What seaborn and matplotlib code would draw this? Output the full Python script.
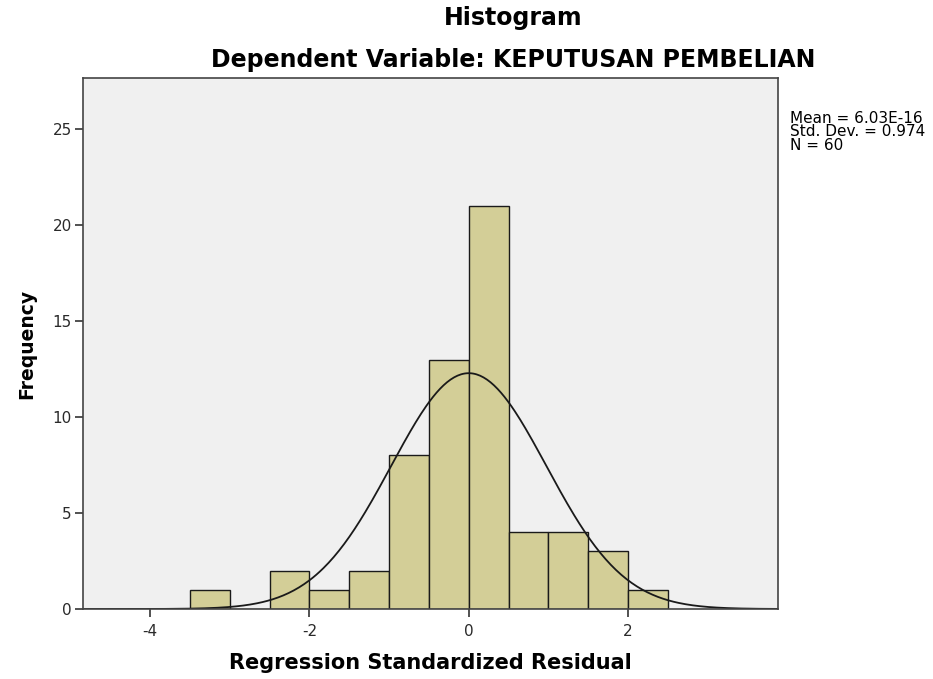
import numpy as np
import pandas as pd
import matplotlib
matplotlib.use("Agg")
import matplotlib.pyplot as plt
import seaborn as sns

# Data
bin_edges = [-3.5, -3.0, -2.5, -2.0, -1.5, -1.0, -0.5, 0.0, 0.5, 1.0, 1.5, 2.0, 2.5]
counts = [1, 0, 2, 1, 2, 8, 13, 21, 4, 4, 3, 1]
mean_val = 6.03e-16
std_val = 0.974
n_val = 60
x_ticks = [-4, -2, 0, 2]
y_ticks = [0, 5, 10, 15, 20, 25]

sns.set_theme(style="white")
plt.rcParams['font.family'] = ['DejaVu Sans']

fig = plt.figure(figsize=(9.33, 6.79), dpi=100)
ax = fig.add_axes([83/933, 1-609/679, (778-83)/933, (609-78)/679])
ax.set_facecolor("#F0F0F0")

centers = [(a + b) / 2 for a, b in zip(bin_edges[:-1], bin_edges[1:])]
df = pd.DataFrame({"x": centers, "w": counts})
sns.histplot(data=df, x="x", weights="w", bins=bin_edges, ax=ax,
             color="#D3CE97", alpha=1, edgecolor="#1a1a1a", linewidth=1.0)

bw = bin_edges[1] - bin_edges[0]
xs = np.linspace(-4.84, 3.88, 400)
ys = n_val * bw / (std_val * np.sqrt(2 * np.pi)) * np.exp(-0.5 * ((xs - mean_val) / std_val) ** 2)
sns.lineplot(x=xs, y=ys, ax=ax, color="#1a1a1a", linewidth=1.3)

ax.set_xlim(-4.84, 3.88)
ax.set_ylim(0, 27.67)
ax.set_xticks(x_ticks)
ax.set_xticklabels([str(t) for t in x_ticks])
ax.set_yticks(y_ticks)
ax.set_yticklabels([str(t) for t in y_ticks])
ax.tick_params(axis="both", direction="out", length=6, width=1.2, color="#333333",
               labelsize=11, labelcolor="#2a2a2a", bottom=True, left=True)
ax.tick_params(axis="x", pad=5)
ax.tick_params(axis="y", pad=2)
for s in ax.spines.values():
    s.set_visible(True)
    s.set_color("#444444")
    s.set_linewidth(1.2)

ax.set_xlabel("Regression Standardized Residual", fontsize=15, fontweight="bold",
              labelpad=10, color="black")
ax.set_ylabel("Frequency", fontsize=13.5, fontweight="bold", labelpad=12, color="black")

fig.text(513/933, 1-18/679, "Histogram", ha="center", va="center", fontsize=17,
         fontweight="bold", color="black")
fig.text(513/933, 1-60/679, "Dependent Variable: KEPUTUSAN PEMBELIAN", ha="center", va="center",
         fontsize=17, fontweight="bold", color="black")
fig.text(790/933, 1-132/679,
         f"Mean = 6.03E-16\nStd. Dev. = {std_val}\nN = {n_val}",
         ha="left", va="center", fontsize=11, linespacing=0.9, color="black")

fig.savefig("out.png", dpi=100)
